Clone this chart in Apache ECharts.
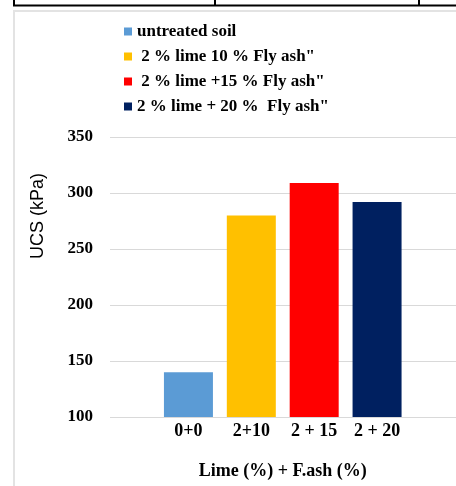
<!DOCTYPE html>
<html>
<head>
<meta charset="utf-8">
<script src="https://cdn.jsdelivr.net/npm/echarts@6/dist/echarts.min.js"></script>
<style>
  html, body { margin: 0; padding: 0; background: #fff; }
  #chart { width: 456px; height: 486px; }
</style>
</head>
<body>
<div id="chart"></div>
<script>
// UCS of soil mixes: lime (%) + fly ash (%)
const categories = ['0+0', '2+10', '2 + 15', '2 + 20'];
const seriesNames = [
  'untreated soil',
  ' 2 % lime 10 % Fly ash"',
  ' 2 % lime +15 % Fly ash"',
  '2 % lime + 20 %  Fly ash"'
];
const untreatedSoil = [140, null, null, null];
const lime2FlyAsh10 = [null, 280, null, null];
const lime2FlyAsh15 = [null, null, 309, null];
const lime2FlyAsh20 = [null, null, null, 292];
const yTicks = { min: 100, max: 350, step: 50 };

const colors = ['#5B9BD5', '#FFC000', '#FF0000', '#002060'];
const seriesData = [untreatedSoil, lime2FlyAsh10, lime2FlyAsh15, lime2FlyAsh20];
const serif = '"Liberation Serif", "Times New Roman", serif';

const chart = echarts.init(document.getElementById('chart'));
chart.setOption({
  animation: false,
  backgroundColor: '#fff',
  color: colors,
  legend: {
    orient: 'vertical',
    left: 119,
    top: 18,
    itemWidth: 8,
    itemHeight: 8,
    itemGap: 8,
    icon: 'rect',
    textStyle: { fontFamily: serif, fontWeight: 'bold', fontSize: 17, lineHeight: 17, color: '#000' },
    data: seriesNames
  },
  grid: [
    { left: 110, right: -10, top: 137, bottom: 69 },
    { left: 157, right: 47.5, top: 137, bottom: 69 }
  ],
  xAxis: [
    { type: 'category', gridIndex: 0, data: [''], show: false },
    {
      type: 'category', gridIndex: 1, data: categories,
      axisLine: { show: false }, axisTick: { show: false },
      axisLabel: { margin: 5, fontFamily: serif, fontWeight: 'bold', fontSize: 18, color: '#000' },
      name: 'Lime (%) + F.ash (%)',
      nameLocation: 'middle',
      nameGap: 45,
      nameTextStyle: { fontFamily: serif, fontWeight: 'bold', fontSize: 18, color: '#000' }
    }
  ],
  yAxis: [
    {
      type: 'value', gridIndex: 0,
      min: yTicks.min, max: yTicks.max, interval: yTicks.step,
      axisLine: { show: false }, axisTick: { show: false },
      axisLabel: { margin: 17, fontFamily: serif, fontWeight: 'bold', fontSize: 17, color: '#000' },
      splitLine: { show: true, lineStyle: { color: '#d9d9d9', width: 1 } }
    },
    {
      type: 'value', gridIndex: 1,
      min: yTicks.min, max: yTicks.max, interval: yTicks.step,
      show: false, splitLine: { show: false }
    }
  ],
  series: seriesNames.map((name, i) => ({
    name: name,
    type: 'bar',
    xAxisIndex: 1,
    yAxisIndex: 1,
    barWidth: 49,
    barGap: '-100%',
    data: seriesData[i],
    itemStyle: { color: colors[i] }
  })),
  graphic: [
    // y axis title
    {
      type: 'text', x: 38, y: 216, rotation: Math.PI / 2,
      style: {
        text: 'UCS (kPa)', fill: '#000',
        font: '18px "Liberation Sans", Arial, sans-serif',
        textAlign: 'center', textVerticalAlign: 'middle'
      }
    },
    // surrounding page frame
    { type: 'line', shape: { x1: 13, y1: 5.5, x2: 456, y2: 5.5 }, style: { stroke: '#000', lineWidth: 2 } },
    { type: 'line', shape: { x1: 14, y1: 0, x2: 14, y2: 6 }, style: { stroke: '#000', lineWidth: 2 } },
    { type: 'line', shape: { x1: 215, y1: 0, x2: 215, y2: 6 }, style: { stroke: '#000', lineWidth: 2 } },
    { type: 'line', shape: { x1: 419, y1: 0, x2: 419, y2: 6 }, style: { stroke: '#000', lineWidth: 2 } },
    { type: 'line', shape: { x1: 13, y1: 11, x2: 456, y2: 11 }, style: { stroke: '#e3e3e3', lineWidth: 2 } },
    { type: 'line', shape: { x1: 14, y1: 11, x2: 14, y2: 486 }, style: { stroke: '#e3e3e3', lineWidth: 2 } }
  ]
});
</script>
</body>
</html>
